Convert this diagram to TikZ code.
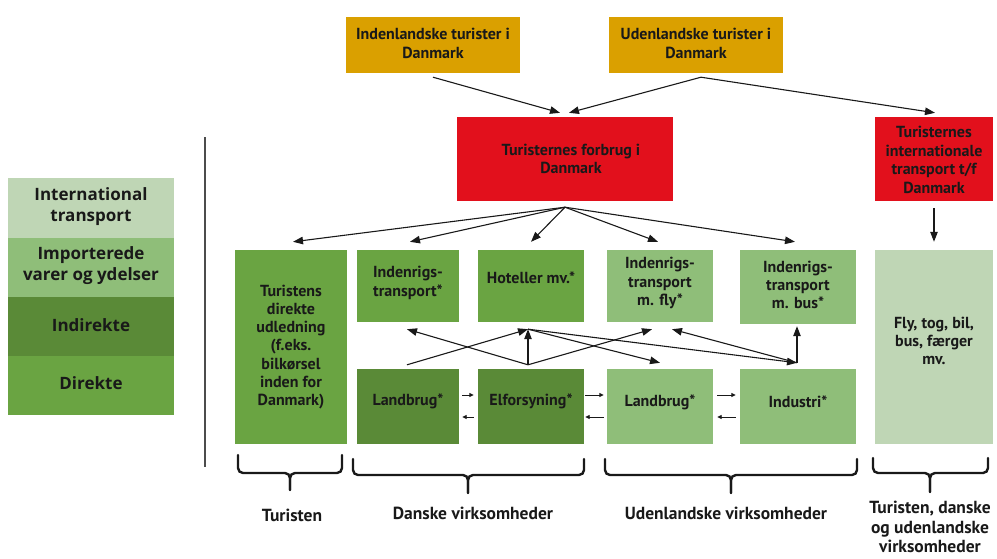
\documentclass[tikz,border=0pt]{standalone}
\usepackage{fontspec}
\setmainfont{PT Sans}
\newfontfamily\legfont{Open Sans}
\usetikzlibrary{arrows.meta,calc}
\definecolor{gold}{RGB}{218,160,0}
\definecolor{redbox}{RGB}{226,16,28}
\definecolor{gdir}{RGB}{106,164,66}
\definecolor{gind}{RGB}{90,138,55}
\definecolor{gimp}{RGB}{143,190,121}
\definecolor{gint}{RGB}{191,214,181}
\definecolor{ink}{RGB}{25,25,25}
\begin{document}
\begin{tikzpicture}[x=1pt,y=-1pt,
  shape box/.style={fill=#1, inner sep=0pt, draw=none},
  txt/.style={inner sep=0pt, align=center, text=ink, font=\bfseries\fontsize{16}{18.3}\selectfont},
  toptxt/.style={txt, font=\bfseries\fontsize{16}{19}\selectfont},
  redtxt/.style={txt, font=\bfseries\fontsize{16}{18.5}\selectfont},
  arr/.style={-{Triangle[length=10pt,width=7.5pt]}, line width=1.1pt, draw=ink},
  tiny/.style={-{Triangle[length=4.5pt,width=4pt]}, line width=0.9pt, draw=ink},
  bracepath/.style={line width=2.4pt, rounded corners=5pt, draw=ink, line cap=round},
  lbl/.style={inner sep=0pt, align=center, text=ink, font=\bfseries\fontsize{17.5}{19.5}\selectfont},
  leg/.style={inner sep=0pt, align=center, text=ink, font=\legfont\bfseries\fontsize{17}{21}\selectfont}
]
\useasboundingbox (0,0) rectangle (997,558);

% legend
\node[shape box=gint, minimum width=166pt, minimum height=60pt] (l1) at (91,208) {};
\node[shape box=gimp, minimum width=166pt, minimum height=59pt] (l2) at (91,267.5) {};
\node[shape box=gind, minimum width=166pt, minimum height=59pt] (l3) at (91,326.5) {};
\node[shape box=gdir, minimum width=166pt, minimum height=59pt] (l4) at (91,385.5) {};
\node[leg] (l1t) at (91,207) {International\\transport};
\node[leg] (l2t) at (91,266) {Importerede\\varer og ydelser};
\node[leg] (l3t) at (91,325) {Indirekte};
\node[leg] (l4t) at (91,383) {Direkte};

\draw[line width=1.3pt, draw=black!70] (205,137) -- (205,467);

% top boxes
\node[shape box=gold, minimum width=174pt, minimum height=56pt] (indl) at (433,45) {};
\node[toptxt] (indlt) at (433,43) {Indenlandske turister i\\Danmark};
\node[shape box=gold, minimum width=174pt, minimum height=56pt] (udl) at (696,45) {};
\node[toptxt] (udlt) at (696,43) {Udenlandske turister i\\Danmark};

\node[shape box=redbox, minimum width=216pt, minimum height=84pt] (forb) at (565,159) {};
\node[redtxt] (forbt) at (571,159) {Turisternes forbrug i\\Danmark};
\node[shape box=redbox, minimum width=118pt, minimum height=84pt] (intl) at (934,159) {};
\node[redtxt] (intlt) at (934,160) {Turisternes\\internationale\\transport t/f\\Danmark};

% row 1
\node[shape box=gdir, minimum width=112pt, minimum height=194pt] (tur) at (291,347) {};
\node[txt] (turt) at (291,347) {Turistens\\direkte\\udledning\\(f.eks.\\bilkørsel\\inden for\\Danmark)};
\node[shape box=gdir, minimum width=102pt, minimum height=72pt] (inr) at (408,286) {};
\node[txt] (inrt) at (408,283) {Indenrigs-\\transport*};
\node[shape box=gdir, minimum width=106pt, minimum height=72pt] (hot) at (531,286) {};
\node[txt] (hott) at (531,278) {Hoteller mv.*};
\node[shape box=gimp, minimum width=106pt, minimum height=72pt] (fly) at (660,286) {};
\node[txt] (flyt) at (660,283) {Indenrigs-\\transport\\m. fly*};
\node[shape box=gimp, minimum width=116pt, minimum height=74pt] (bus) at (798,287) {};
\node[txt] (bust) at (798,285) {Indenrigs-\\transport\\m. bus*};
\node[shape box=gint, minimum width=118pt, minimum height=194pt] (ftb) at (934,347) {};
\node[txt] (ftbt) at (934,341) {Fly, tog, bil,\\bus, færger\\mv.};

% row 2
\node[shape box=gind, minimum width=102pt, minimum height=75pt] (lbd) at (408,406.5) {};
\node[txt] (lbdt) at (408,401) {Landbrug*};
\node[shape box=gind, minimum width=106pt, minimum height=75pt] (elf) at (531,406.5) {};
\node[txt] (elft) at (531,401) {Elforsyning*};
\node[shape box=gimp, minimum width=106pt, minimum height=75pt] (lbu) at (660,406.5) {};
\node[txt] (lbut) at (660,402) {Landbrug*};
\node[shape box=gimp, minimum width=116pt, minimum height=75pt] (ind) at (798,406.5) {};
\node[txt] (indt) at (798,402) {Industri*};

% top arrows
\coordinate (us) at ($(udl.south)+(5,4)$);
\draw[arr] ($(indl.south)+(0,4)$) -- ($(forb.north)+(-5,-4)$);
\draw[arr] (us) -- ($(forb.north)+(4,-4)$);
\draw[arr] (us) -- ($(intl.north)+(1,-4)$);

% fan from consumption
\coordinate (fs) at ($(forb.south)+(0,6)$);
\draw[arr] (fs) -- ($(tur.north)+(2,-8)$);
\draw[arr] (fs) -- ($(inr.north)+(2,-8)$);
\draw[arr] (fs) -- ($(hot.north)+(0,-8)$);
\draw[arr] (fs) -- ($(fly.north)+(-2,-8)$);
\draw[arr] (fs) -- ($(bus.north)+(-3,-8)$);
\draw[arr] ($(intl.south)+(0,7)$) -- ($(ftb.north)+(0,-8)$);

% middle network
\coordinate (hb) at ($(hot.south)+(-3,7)$);
\coordinate (et) at ($(elf.north)+(-3,-4)$);
\coordinate (lt) at ($(lbd.north)+(-1,-4)$);
\coordinate (ib) at ($(inr.south)+(-1,7)$);
\coordinate (fb1) at ($(fly.south)+(-8,7)$);
\coordinate (fb2) at ($(fly.south)+(12,7)$);
\coordinate (lut) at ($(lbu.north)+(0,-6)$);
\coordinate (it) at ($(ind.north)+(-1,-6)$);
\coordinate (bb) at ($(bus.south)+(-1,2)$);
\draw[arr] (lt) -- (hb);
\draw[arr] (et) -- (ib);
\draw[arr] (et) -- (hb);
\draw[arr] (et) -- (fb1);
\draw[arr] (hb) -- (lut);
\draw[arr] (hb) -- (it);
\draw[arr] (it) -- (fb2);
\draw[arr] (it) -- (bb);

% small arrows between row-2 boxes
\draw[tiny] ($(lbd.east)+(3,-11.5)$) -- ($(elf.west)+(-4,-11.5)$);
\draw[tiny] ($(elf.west)+(-4,10.5)$) -- ($(lbd.east)+(3,10.5)$);
\draw[tiny] ($(elf.east)+(1,-11.5)$) -- ($(lbu.west)+(-3,-11.5)$);
\draw[tiny] ($(lbu.west)+(-3,10.5)$) -- ($(elf.east)+(1,10.5)$);
\draw[tiny] ($(lbu.east)+(4,-11.5)$) -- ($(ind.west)+(-4,-11.5)$);
\draw[tiny] ($(ind.west)+(-4,10.5)$) -- ($(lbu.east)+(4,10.5)$);

% braces
\draw[bracepath] (238,455) -- (238,473) -- (290,473) -- (290,490);
\draw[bracepath] (342,455) -- (342,473) -- (290,473) -- (290,490);
\draw[bracepath] (353,459) -- (353,475) -- (468,475) -- (468,493);
\draw[bracepath] (584,459) -- (584,475) -- (468,475) -- (468,493);
\draw[bracepath] (605,459) -- (605,475) -- (731,475) -- (731,493);
\draw[bracepath] (857,459) -- (857,475) -- (731,475) -- (731,493);
\draw[bracepath] (873,458) -- (873,473) -- (930,473) -- (930,492);
\draw[bracepath] (988,458) -- (988,473) -- (930,473) -- (930,492);

% labels
\node[lbl] (b1) at (292,515) {Turisten};
\node[lbl] (b2) at (473,513) {Danske virksomheder};
\node[lbl] (b3) at (726,513) {Udenlandske virksomheder};
\node[lbl] (b4) at (930,527) {Turisten, danske\\og udenlandske\\virksomheder};
\end{tikzpicture}
\end{document}
